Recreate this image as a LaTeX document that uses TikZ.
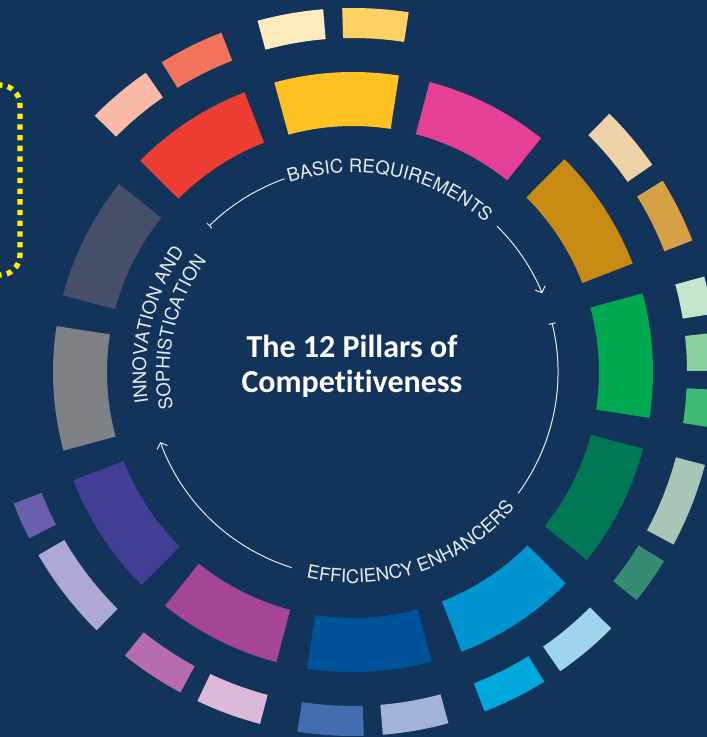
\documentclass[tikz,border=0pt]{standalone}
\usepackage{fontspec}
\usetikzlibrary{arrows.meta,decorations.text}
\newfontfamily\titlefam[Ligatures={NoCommon,NoContextual}]{Carlito}
\newfontfamily\arcfam{TeX Gyre Heros}
\newcommand{\arcfnt}{\arcfam\fontsize{18.5pt}{22pt}\selectfont}
\definecolor{bgnavy}{HTML}{12345B}
\definecolor{arcwhite}{HTML}{E8ECF2}
\definecolor{dotyellow}{HTML}{FFF200}
% inner ring
\definecolor{cRed}{HTML}{EE3E34}
\definecolor{cYellow}{HTML}{FFC222}
\definecolor{cPink}{HTML}{E53F96}
\definecolor{cGold}{HTML}{C88A12}
\definecolor{cGreen}{HTML}{00A950}
\definecolor{cDkGreen}{HTML}{007856}
\definecolor{cLtBlue}{HTML}{0094D0}
\definecolor{cDkBlue}{HTML}{00529B}
\definecolor{cMagenta}{HTML}{A44596}
\definecolor{cIndigo}{HTML}{433E95}
\definecolor{cGray}{HTML}{7F8085}
\definecolor{cSlate}{HTML}{474E6A}
% outer ring
\definecolor{oSalmonLt}{HTML}{F9BBA8}
\definecolor{oSalmon}{HTML}{F4735D}
\definecolor{oCream}{HTML}{FEEBBD}
\definecolor{oYellowLt}{HTML}{FFD064}
\definecolor{oTanLt}{HTML}{EED2A8}
\definecolor{oTan}{HTML}{D6A047}
\definecolor{oGreenA}{HTML}{C5E6CE}
\definecolor{oGreenB}{HTML}{8DD1A1}
\definecolor{oGreenC}{HTML}{3DBA73}
\definecolor{oGrayGreen}{HTML}{A8C5B8}
\definecolor{oTeal}{HTML}{368B73}
\definecolor{oBlueLt}{HTML}{9FD4EF}
\definecolor{oCyan}{HTML}{00A8DC}
\definecolor{oBlueMid}{HTML}{426EB0}
\definecolor{oPeri}{HTML}{A3B2D8}
\definecolor{oOrchid}{HTML}{B76DAD}
\definecolor{oPinkLt}{HTML}{DCB9D8}
\definecolor{oLavender}{HTML}{ADA9D4}
\definecolor{oPurple}{HTML}{6A5FAC}
% annular sector: colour, start angle, end angle, inner radius, outer radius
\newcommand{\ringseg}[5]{\fill[#1] (#2:#4) arc[start angle=#2,end angle=#3,radius=#4] -- (#3:#5) arc[start angle=#3,end angle=#2,radius=#5] -- cycle;}
\newcommand{\pillar}[3]{\ringseg{#1}{#2}{#3}{246}{300}}
\newcommand{\subpillar}[3]{\ringseg{#1}{#2}{#3}{334}{364}}
\begin{document}
\begin{tikzpicture}[x=1pt,y=1pt,
  arcline/.style={draw=arcwhite, line width=1pt},
  bartail/.style={{Bar[width=7pt,line width=1pt]}-},
  barbhead/.style={-{Straight Barb[length=5pt,width=11pt,line width=1pt]}},
  titletext/.style={text=white, font=\titlefam\bfseries\fontsize{32pt}{36pt}\selectfont, inner sep=0pt},
  yellowdots/.style={draw=dotyellow, line width=5.3pt, dash pattern=on 5.3pt off 5.4pt, rounded corners=20pt},
  arctextdeco/.style={decorate, decoration={text along path, text align=center, text color=arcwhite, text={|\arcfnt|#1}}}
]
\useasboundingbox (-353,-365) rectangle (354,372);
\fill[bgnavy] (-353,-365) rectangle (354,372);
\clip (-353,-365) rectangle (354,372);

% yellow dotted frame (partly outside the picture)
\draw[yellowdots] (-420,287) -- (-333,287) -- (-333,97) -- (-420,97);

% inner ring: the 12 pillars
\pillar{cRed}{135.2}{111.2}
\pillar{cYellow}{105.2}{81.2}
\pillar{cPink}{75.2}{51.2}
\pillar{cGold}{45.2}{21.2}
\pillar{cGreen}{15.2}{-8.8}
\pillar{cDkGreen}{-14.8}{-38.8}
\pillar{cLtBlue}{-44.8}{-68.8}
\pillar{cDkBlue}{-74.8}{-98.8}
\pillar{cMagenta}{-104.8}{-128.8}
\pillar{cIndigo}{-134.8}{-158.8}
\pillar{cGray}{195.2}{171.2}
\pillar{cSlate}{165.2}{141.2}

% outer ring
\subpillar{oSalmonLt}{135.2}{124.7}
\subpillar{oSalmon}{121.7}{111.2}
\subpillar{oCream}{105.2}{94.7}
\subpillar{oYellowLt}{91.7}{81.2}
\subpillar{oTanLt}{45.2}{34.7}
\subpillar{oTan}{31.7}{21.2}
\subpillar{oGreenA}{15.2}{9.2}
\subpillar{oGreenB}{6.2}{0.2}
\subpillar{oGreenC}{-2.8}{-8.8}
\subpillar{oGrayGreen}{-14.8}{-28.3}
\subpillar{oTeal}{-31.3}{-38.8}
\subpillar{oBlueLt}{-44.8}{-55.3}
\subpillar{oCyan}{-58.3}{-68.8}
\subpillar{oPeri}{-74.8}{-85.3}
\subpillar{oBlueMid}{-88.3}{-98.8}
\subpillar{oPinkLt}{-104.8}{-115.3}
\subpillar{oOrchid}{-118.3}{-128.8}
\subpillar{oLavender}{-134.8}{-149.8}
\subpillar{oPurple}{-152.8}{-158.8}

% inner cycle arcs
\coordinate (basicStart) at (134.6:205);
\coordinate (basicPause) at (45.3:205);
\coordinate (effStart) at (13.8:205);
\coordinate (effPause) at (-107.4:205);
\draw[arcline, bartail] (basicStart) arc[start angle=134.6, end angle=109.5, radius=205];
\draw[arcline, barbhead] (basicPause) arc[start angle=45.3, end angle=22.6, radius=205];
\draw[arcline, bartail] (effStart) arc[start angle=13.8, end angle=-36.3, radius=205];
\draw[arcline, barbhead] (effPause) arc[start angle=-107.4, end angle=-160, radius=205];

% arc labels
\path[arctextdeco={BASIC REQUIREMENTS}] (118.5:199.5) arc[start angle=118.5, end angle=38.5, radius=199.5];
\path[arctextdeco={EFFICIENCY ENHANCERS}] (-111.4:211) arc[start angle=-111.4, end angle=-31.4, radius=211];
\path[arctextdeco={INNOVATION AND}] (206.5:207) arc[start angle=206.5, end angle=126.5, radius=207];
\path[arctextdeco={SOPHISTICATION}] (207.1:183.5) arc[start angle=207.1, end angle=127.1, radius=183.5];

% title
\node[titletext, anchor=base] (title1) at (-1,15) {The 12 Pillars of};
\node[titletext, anchor=base] (title2) at (-1,-20.5) {Competitiveness};
\end{tikzpicture}
\end{document}
